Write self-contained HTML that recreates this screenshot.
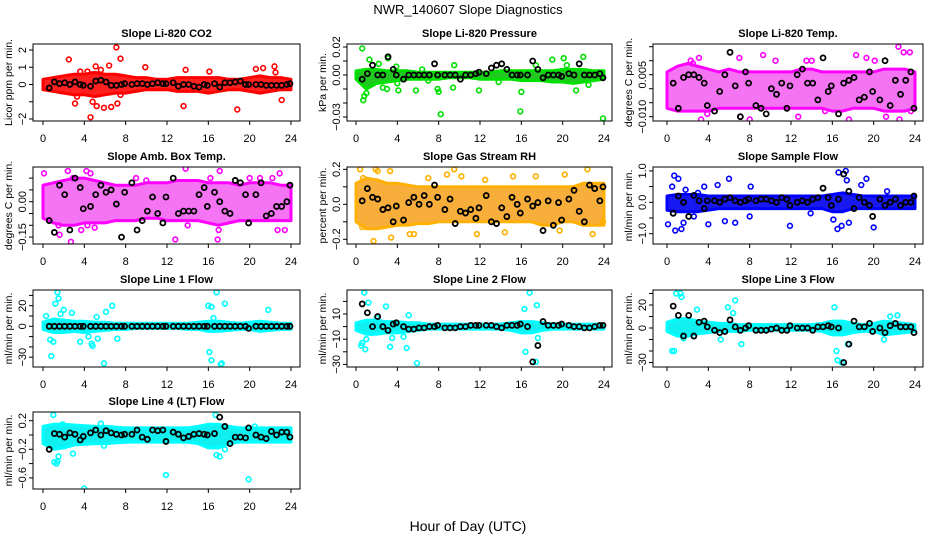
<!DOCTYPE html>
<html><head><meta charset="utf-8"><style>
html,body{margin:0;padding:0;background:#fff;}
svg{display:block;font-family:"Liberation Sans",sans-serif;}
</style></head><body>
<svg id="chart" width="936" height="540" viewBox="0 0 936 540" xmlns="http://www.w3.org/2000/svg">
<text x="468" y="14" text-anchor="middle" font-size="13">NWR_140607  Slope Diagnostics</text>
<text x="468" y="531" text-anchor="middle" font-size="14">Hour of Day (UTC)</text>
</svg>
<script>
const bandHours=[0,1,2,3,4,5,6,7,8,9,10,11,12,13,14,15,16,17,18,19,20,21,22,23,24];
const blackHours=[0.6,1.1,1.6,2.1,2.6,3.1,3.6,3.9,4.6,5.1,5.6,6.1,6.6,7.1,7.6,7.9,8.6,9.1,9.6,10.1,10.6,11.1,11.6,11.9,12.6,13.1,13.6,14.1,14.6,15.1,15.6,15.9,16.6,17.1,17.6,18.1,18.6,19.1,19.6,19.9,20.6,21.1,21.6,22.1,22.6,23.1,23.6,23.9];
const xTicks=[0,4,8,12,16,20,24];

// Panel 1 CO2
const co2Hi=[0.3,0.4,0.5,0.6,0.6,0.7,0.6,0.6,0.5,0.4,0.4,0.3,0.3,0.4,0.4,0.4,0.4,0.4,0.3,0.3,0.4,0.5,0.4,0.4,0.3];
const co2Lo=[-0.3,-0.4,-0.5,-0.6,-0.6,-0.7,-0.6,-0.5,-0.5,-0.4,-0.3,-0.3,-0.3,-0.4,-0.4,-0.4,-0.5,-0.4,-0.3,-0.3,-0.4,-0.5,-0.4,-0.3,-0.3];
const co2OutX=[2.5,3.1,3.3,4.3,4.6,4.8,5.1,5.2,5.9,6.4,6.6,7.1,7.2,7.5,7.5,9.9,13.8,13.6,16.1,18.8,20.6,21.3,22.4,23.1,22.5,3.6,5.6];
const co2OutY=[1.45,-1.1,-0.7,0.75,-1.9,-1.0,1.05,-1.25,-1.35,1.1,-1.3,2.15,-1.1,1.5,-0.6,1.0,0.85,-1.25,0.75,-1.45,0.9,0.95,1.05,-0.9,0.7,0.75,0.85];
const co2Mean=[-0.2,0.15,0.05,0.1,0,0.15,0,-0.05,-0.1,0.2,0.25,0.15,-0.05,-0.05,0,0.05,0,0.05,0.05,0,0.05,0.1,0.05,0.05,0.1,-0.1,0,0,-0.1,-0.15,0,-0.05,0.05,-0.15,0.1,0.1,0.15,0.2,0,0,0,0,-0.05,-0.05,-0.05,-0.05,0,0.05];
const co2Ticks=[2,1,0,-1,-2];
const co2Labels=["2","1","0","","−2"];

// Panel 2 Pressure
const presHi=[0.003,0.004,0.004,0.003,0.003,0.003,0.002,0.002,0.002,0.002,0.002,0.002,0.002,0.002,0.003,0.003,0.003,0.003,0.003,0.003,0.004,0.004,0.004,0.003,0.003];
const presLo=[-0.003,-0.01,-0.006,-0.005,-0.004,-0.003,-0.003,-0.003,-0.003,-0.002,-0.002,-0.002,-0.003,-0.003,-0.003,-0.003,-0.004,-0.004,-0.004,-0.005,-0.005,-0.006,-0.005,-0.004,-0.003];
const presOutX=[0.6,0.7,0.8,1.0,1.3,2.2,2.6,3.0,3.1,3.9,4.1,5.8,6.4,7.9,8.0,8.2,9.5,11.9,13.8,15.9,16.0,17.4,19.0,20.1,20.4,21.3,22.0,22.5,23.9,4.0,7.0,9.4];
const presOutY=[0.019,-0.018,-0.015,-0.013,0.011,0.008,-0.009,-0.01,0.012,0.006,-0.011,-0.011,0.004,-0.01,-0.012,-0.028,0.007,-0.011,-0.005,-0.026,-0.012,0.007,0.011,0.012,0.007,-0.011,0.013,-0.007,-0.031,-0.006,-0.004,-0.009];
const presMean=[-0.003,0.001,0.007,0,0,0.013,0.004,0,-0.003,0,0,0,0,0,0.008,0,0,0,0,-0.003,0,0,0.001,0.002,0.001,0.005,0.007,0.008,0.004,0,0,0,0,0.01,0.004,-0.002,0,0,0,-0.001,0.001,0,0.008,0,0,0,0.001,-0.002];
const presTicks=[0.02,0.01,0,-0.01,-0.02,-0.03];
const presLabels=["0.02","","0.00","","","−0.03"];

// Panel 3 Li-820 Temp
const tempHi=[0.006,0.008,0.009,0.008,0.007,0.006,0.007,0.006,0.006,0.006,0.006,0.006,0.006,0.007,0.007,0.006,0.006,0.006,0.006,0.006,0.006,0.007,0.007,0.007,0.006];
const tempLo=[-0.007,-0.008,-0.008,-0.008,-0.008,-0.007,-0.007,-0.007,-0.007,-0.007,-0.007,-0.007,-0.007,-0.007,-0.007,-0.007,-0.008,-0.008,-0.007,-0.007,-0.007,-0.008,-0.008,-0.008,-0.007];
const tempOutX=[2.3,3.1,3.3,3.9,7.0,7.1,8.0,9.3,12.7,13.5,14.0,17.6,18.3,19.3,20.1,21.2,22.4,22.5,22.9,23.5,23.6,2.5,10.5,15.3];
const tempOutY=[0.010,0.011,-0.011,-0.009,0.011,-0.010,-0.011,0.012,-0.010,0.010,0.010,-0.011,0.012,0.011,0.010,-0.010,0.015,-0.011,0.013,0.013,-0.008,0.009,0.010,-0.008];
const tempMean=[0.002,-0.007,0.004,0.005,0.005,0.004,0.002,-0.006,-0.008,-0.001,0.005,0.013,0.001,-0.010,0.006,0.002,-0.006,-0.007,-0.009,0.0,-0.002,0.002,-0.007,0.001,0.005,0.007,0.002,0.002,-0.004,0.011,-0.001,0.001,-0.009,0.002,0.003,0.004,-0.004,-0.003,0.006,-0.001,-0.004,0.010,-0.006,0.003,-0.002,0.003,0.006,-0.007];
const tempTicks=[0.015,0.01,0.005,0,-0.005,-0.01];
const tempLabels=["","","0.005","","","−0.010"];

// Panel 4 Amb Box Temp
const ambHi=[0.07,0.08,0.09,0.1,0.1,0.09,0.08,0.07,0.07,0.07,0.08,0.08,0.08,0.09,0.09,0.09,0.08,0.08,0.08,0.07,0.08,0.08,0.08,0.07,0.07];
const ambLo=[-0.07,-0.09,-0.1,-0.1,-0.09,-0.09,-0.09,-0.08,-0.08,-0.08,-0.07,-0.07,-0.08,-0.08,-0.08,-0.08,-0.09,-0.1,-0.09,-0.08,-0.08,-0.08,-0.08,-0.08,-0.08];
const ambOutX=[0.1,1.6,2.4,2.7,2.9,3.7,4.2,4.3,4.6,5.0,9.0,12.8,13.8,14.0,16.2,16.9,17.1,17.0,20.0,21.0,22.2,22.7,22.9,23.4,1.5,10.0];
const ambOutY=[0.12,-0.14,0.13,-0.17,0.1,-0.12,0.13,-0.1,0.12,-0.11,0.1,-0.16,0.14,-0.1,0.1,-0.16,0.13,-0.12,0.1,0.1,0.1,-0.12,0.12,-0.12,-0.1,0.09];
const ambMean=[-0.08,-0.13,0.07,0.03,-0.12,0.1,0.06,-0.03,-0.02,0.03,0.07,0.04,0.05,-0.01,-0.15,0.04,0.08,-0.12,-0.08,-0.04,0.02,-0.05,-0.09,0.02,0.1,-0.05,-0.04,-0.04,-0.04,0.03,0.06,-0.02,0.04,0,-0.04,-0.05,0.09,0.08,0.03,-0.09,0.03,0.08,-0.06,-0.05,-0.02,-0.02,0,0.07];
const ambTicks=[0.1,0.05,0,-0.05,-0.1,-0.15];
const ambLabels=["","","0.00","","","−0.15"];

// Panel 5 Gas Stream RH
const rhHi=[0.12,0.15,0.14,0.12,0.12,0.11,0.1,0.1,0.1,0.1,0.1,0.1,0.1,0.1,0.1,0.1,0.1,0.1,0.1,0.1,0.1,0.1,0.12,0.12,0.12];
const rhLo=[-0.1,-0.14,-0.14,-0.13,-0.12,-0.12,-0.11,-0.11,-0.1,-0.1,-0.1,-0.1,-0.1,-0.1,-0.1,-0.1,-0.1,-0.1,-0.12,-0.12,-0.1,-0.1,-0.12,-0.12,-0.12];
const rhOutX=[0.4,0.6,1.7,1.9,2.1,3.3,3.4,5.2,5.6,7.0,8.8,9.5,10.2,11.7,12.5,14.4,15.2,17.4,19.7,20.2,22.4,22.9,23.9,0.7];
const rhOutY=[0.2,-0.13,-0.21,0.2,0.19,0.19,-0.19,-0.17,-0.17,0.15,0.17,0.2,0.16,-0.17,0.14,-0.16,0.16,0.16,-0.15,0.17,0.2,-0.17,-0.1,0.15];
const rhMean=[0.02,0.09,0.04,0.03,-0.03,-0.02,-0.1,-0.01,-0.09,0.01,0.04,0,0.05,0,0.11,0.04,-0.03,0.03,-0.11,-0.04,-0.05,-0.03,-0.08,-0.02,0.05,-0.1,-0.11,-0.02,-0.07,0.04,0,-0.05,0.03,-0.01,0.01,-0.15,0.02,-0.12,0.01,-0.09,0.03,0.08,-0.04,-0.1,0.11,0.09,0.02,0.1];
const rhTicks=[0.2,0.1,0,-0.1,-0.2];
const rhLabels=["0.2","","0.0","","−0.2"];

// Panel 6 Sample Flow
const sampHi=[0.2,0.25,0.25,0.25,0.2,0.2,0.2,0.2,0.2,0.2,0.2,0.2,0.2,0.2,0.2,0.2,0.25,0.3,0.25,0.2,0.2,0.2,0.2,0.2,0.2];
const sampLo=[-0.25,-0.3,-0.3,-0.3,-0.25,-0.2,-0.2,-0.2,-0.2,-0.2,-0.2,-0.2,-0.2,-0.2,-0.2,-0.2,-0.3,-0.3,-0.2,-0.2,-0.2,-0.2,-0.2,-0.2,-0.2];
const sampOutX=[0.1,0.5,0.7,0.8,1.1,1.4,1.6,1.8,2.6,3.0,3.6,4.0,4.9,5.6,6.0,6.6,8.1,8.0,11.9,13.9,16.1,16.5,16.6,17.3,17.4,17.6,18.8,19.3,20.0,21.3,16.9];
const sampOutY=[-0.7,0.5,0.85,-0.9,0.75,-0.85,-0.65,0.4,-0.45,0.3,0.5,-0.7,0.55,-0.6,0.75,-0.65,0.5,-0.45,-0.75,-0.35,-0.55,-0.85,0.95,1.0,0.7,-0.65,0.55,0.75,-0.8,0.35,-0.75];
const sampMean=[-0.35,0.2,0.0,-0.45,0.22,0.05,-0.2,0.05,0.05,0.0,0.1,0.15,0.05,0.0,0.05,0.1,0.05,0.1,0.1,0.05,0.0,0.15,0.1,-0.1,0.0,0.05,0.0,0.1,0.15,0.45,0.15,-0.1,0.1,0.9,0.35,-0.2,0.15,0.0,-0.1,-0.45,0.1,-0.1,0.0,0.1,-0.1,0.0,0.0,0.2];
const sampTicks=[1,0.5,0,-0.5,-1];
const sampLabels=["1.0","","0.0","","−1.0"];

// Panel 7 Line 1 Flow
const l1Hi=[4,7,6,5,5,4,4,3,3,3,3,3,3,3,3,4,5,5,4,3,4,5,4,3,3];
const l1Lo=[-3,-6,-6,-5,-6,-5,-4,-3,-3,-2,-2,-2,-2,-2,-3,-3,-5,-5,-4,-3,-3,-5,-4,-3,-3];
const l1OutX=[0.3,0.7,0.8,1.0,1.2,1.4,1.5,1.7,2.0,2.8,3.6,4.4,4.7,4.8,5.2,5.3,5.9,6.1,6.7,7.2,16.0,16.1,16.3,16.3,16.8,17.2,17.3,17.6,21.8,16.5];
const l1OutY=[10,-13,-29,-15,22,33,27,12,16,13,-15,-10,-17,-19,9,-12,-36,14,20,-12,20,-25,-33,19,33,-37,-36,22,16,8];
const l1Mean=[0,0,0,0,0,0,0,0,0,0,0,0,0,0,0,0,0,0,0,0,0,0,0,0,0,0,0,0,0,0,0,0,0,0,0,0,0,0,0,-2,0,0,0,0,0,0,0,0];
const l1Ticks=[30,20,10,0,-10,-20,-30];
const l1Labels=["","20","","0","","","−30"];

// Panel 8 Line 2 Flow
const l2Hi=[3,5,5,4,4,3,3,2,2,2,2,2,2,2,2,3,4,4,3,2,2,2,2,2,2];
const l2Lo=[-3,-6,-6,-5,-5,-4,-3,-2,-2,-2,-2,-2,-2,-2,-2,-3,-5,-5,-3,-2,-2,-2,-2,-2,-2];
const l2OutX=[0.8,0.5,0.9,1.0,1.2,2.9,3.5,3.3,4.6,4.9,5.1,5.9,16.3,16.4,16.8,17.4,17.6,17.5,0.6,1.5,2.0];
const l2OutY=[27,-15,-18,-10,19,16,-9,-16,-8,-17,9,-29,14,-20,27,-28,-9,17,-13,-5,7];
const l2Mean=[18,11,0,8,0,-3,2,3,0,-2,-2,-1,-1,0,0,1,-1,-1,-1,0,0,1,1,1,1,1,0,-1,1,1,1,2,0,-28,-15,4,1,1,1,2,1,0,0,-1,-1,0,1,1];
const l2Ticks=[20,10,0,-10,-20,-30];
const l2Labels=["","10","","−10","","−30"];

// Panel 9 Line 3 Flow
const l3Hi=[5,8,8,6,5,4,4,3,3,3,3,3,3,3,3,4,6,6,4,3,4,6,5,4,3];
const l3Lo=[-3,-7,-7,-5,-4,-3,-3,-3,-2,-2,-2,-2,-2,-2,-2,-3,-6,-6,-4,-3,-3,-6,-5,-4,-3];
const l3OutX=[0.5,0.7,0.9,1.3,1.4,2.9,5.9,6.4,6.6,7.2,16.2,16.4,16.5,16.9,17.5,21.0,21.6,22.3,5.2,1.6];
const l3OutY=[-20,-20,30,30,27,16,18,13,24,-14,18,-20,-28,-30,-14,-10,10,11,-10,-9];
const l3Mean=[19,11,-7,11,-7,5,6,1,-2,-4,-3,7,1,-2,0,2,-2,-2,-2,-1,0,-2,-2,2,0,0,0,-2,1,1,2,1,0,-30,-14,6,1,1,4,-3,0,-4,2,4,1,1,1,-4];
const l3Ticks=[30,20,10,0,-10,-20,-30];
const l3Labels=["","20","","0","","","−30"];

// Panel 10 Line 4 (LT) Flow
const l4Hi=[0.12,0.15,0.15,0.14,0.13,0.12,0.12,0.11,0.1,0.1,0.1,0.1,0.1,0.1,0.1,0.12,0.15,0.15,0.12,0.1,0.1,0.1,0.1,0.1,0.1];
const l4Lo=[-0.12,-0.2,-0.18,-0.14,-0.13,-0.12,-0.12,-0.11,-0.1,-0.1,-0.1,-0.1,-0.1,-0.1,-0.1,-0.12,-0.18,-0.18,-0.12,-0.1,-0.1,-0.1,-0.1,-0.1,-0.1];
const l4OutX=[1.0,1.1,1.4,1.5,1.9,2.9,4.0,5.6,5.9,11.9,16.7,16.8,17.1,17.6,19.9,20.5,1.3];
const l4OutY=[0.28,-0.38,-0.37,-0.3,0.15,-0.26,-0.75,0.16,-0.15,-0.56,0.28,-0.28,-0.3,-0.2,-0.62,0.12,-0.4];
const l4Mean=[-0.2,0.02,0.01,-0.03,0.03,0.01,-0.07,-0.02,0.03,0.07,0,0.06,0.03,0.01,0,0.01,0.01,0.07,-0.03,-0.06,0.07,0.06,0.07,-0.09,0.04,0.01,-0.04,-0.02,0.01,0.02,0.01,0,0.02,0.25,0.12,-0.12,-0.03,-0.03,-0.04,0.1,0,-0.03,-0.05,0.05,0,0.04,0.04,-0.03];
const l4Ticks=[0.2,0,-0.2,-0.4,-0.6];
const l4Labels=["0.2","","−0.2","","−0.6"];

const NS="http://www.w3.org/2000/svg";
const svg=document.getElementById('chart');
function mk(tag,attrs,parent){const e=document.createElementNS(NS,tag);for(const k in attrs)e.setAttribute(k,attrs[k]);(parent||svg).appendChild(e);return e;}

const cols=[{L:33,R:300,x0:43,x24:291},{L:347,R:612,x0:356,x24:604},{L:653,R:923,x0:667,x24:915}];
const rows=[{T:44,B:121},{T:167,B:244},{T:290,B:367},{T:412,B:489}];

const panels=[
 {key:'co2',title:'Slope Li-820 CO2',ylab:'Licor ppm per min.',c:0,r:0,zero:84.5,ppu:17.25,hi:co2Hi,lo:co2Lo,ox:co2OutX,oy:co2OutY,mean:co2Mean,ticks:co2Ticks,labels:co2Labels,fill:'#ff2020',stroke:'#ff0000'},
 {key:'pressure',title:'Slope Li-820 Pressure',ylab:'kPa per min.',c:1,r:0,zero:75,ppu:1400,hi:presHi,lo:presLo,ox:presOutX,oy:presOutY,mean:presMean,ticks:presTicks,labels:presLabels,fill:'#22c822',stroke:'#00e000'},
 {key:'li820-temp',title:'Slope Li-820 Temp.',ylab:'degrees C per min.',c:2,r:0,zero:88.7,ppu:2800,hi:tempHi,lo:tempLo,ox:tempOutX,oy:tempOutY,mean:tempMean,ticks:tempTicks,labels:tempLabels,fill:'#f474f4',stroke:'#ff00ff'},
 {key:'amb-box-temp',title:'Slope Amb. Box Temp.',ylab:'degrees C per min.',c:0,r:1,zero:201.7,ppu:236,hi:ambHi,lo:ambLo,ox:ambOutX,oy:ambOutY,mean:ambMean,ticks:ambTicks,labels:ambLabels,fill:'#f474f4',stroke:'#ff00ff'},
 {key:'gas-stream-rh',title:'Slope Gas Stream RH',ylab:'percent per min.',c:1,r:1,zero:204.3,ppu:175,hi:rhHi,lo:rhLo,ox:rhOutX,oy:rhOutY,mean:rhMean,ticks:rhTicks,labels:rhLabels,fill:'#f7ae3a',stroke:'#ffb000'},
 {key:'sample-flow',title:'Slope Sample Flow',ylab:'ml/min per min.',c:2,r:1,zero:202.3,ppu:31.4,hi:sampHi,lo:sampLo,ox:sampOutX,oy:sampOutY,mean:sampMean,ticks:sampTicks,labels:sampLabels,fill:'#1818f0',stroke:'#0000ff'},
 {key:'line1-flow',title:'Slope Line 1 Flow',ylab:'ml/min per min.',c:0,r:2,zero:326.3,ppu:1.03,hi:l1Hi,lo:l1Lo,ox:l1OutX,oy:l1OutY,mean:l1Mean,ticks:l1Ticks,labels:l1Labels,fill:'#10f0f0',stroke:'#00ffff'},
 {key:'line2-flow',title:'Slope Line 2 Flow',ylab:'ml/min per min.',c:1,r:2,zero:326.6,ppu:1.26,hi:l2Hi,lo:l2Lo,ox:l2OutX,oy:l2OutY,mean:l2Mean,ticks:l2Ticks,labels:l2Labels,fill:'#10f0f0',stroke:'#00ffff'},
 {key:'line3-flow',title:'Slope Line 3 Flow',ylab:'ml/min per min.',c:2,r:2,zero:328,ppu:1.15,hi:l3Hi,lo:l3Lo,ox:l3OutX,oy:l3OutY,mean:l3Mean,ticks:l3Ticks,labels:l3Labels,fill:'#10f0f0',stroke:'#00ffff'},
 {key:'line4-flow',title:'Slope Line 4 (LT) Flow',ylab:'ml/min per min.',c:0,r:3,zero:435,ppu:71.5,hi:l4Hi,lo:l4Lo,ox:l4OutX,oy:l4OutY,mean:l4Mean,ticks:l4Ticks,labels:l4Labels,fill:'#10f0f0',stroke:'#00ffff'}
];

panels.forEach((p,pi)=>{
 const C=cols[p.c],Rw=rows[p.r];
 const xs=h=>C.x0+h*(C.x24-C.x0)/24;
 const ys=v=>p.zero-v*p.ppu;
 const g=mk('g',{});
 
 
 const clipId='clip'+pi;
 const cp=mk('clipPath',{id:clipId},g);
 mk('rect',{x:C.L,y:Rw.T,width:C.R-C.L,height:Rw.B-Rw.T},cp);
 const t=mk('text',{x:(C.L+C.R)/2,y:Rw.T-7,'text-anchor':'middle','font-size':'11','font-weight':'bold'},g);
 t.textContent=p.title;
 
 
 const plot=mk('g',{'clip-path':'url(#'+clipId+')'},g);
 let pts=[];
 for(let i=0;i<bandHours.length;i++)pts.push(xs(bandHours[i]).toFixed(1)+','+ys(p.hi[i]).toFixed(1));
 for(let i=bandHours.length-1;i>=0;i--)pts.push(xs(bandHours[i]).toFixed(1)+','+ys(p.lo[i]).toFixed(1));
 const band=mk('polygon',{points:pts.join(' '),fill:p.fill,stroke:p.stroke,'stroke-width':'3','stroke-linejoin':'round'},plot);
 
 
 for(let i=0;i<Math.min(p.ox.length,p.oy.length);i++){
  const c=mk('circle',{cx:xs(p.ox[i]),cy:ys(p.oy[i]),r:2.4,fill:'none',stroke:p.stroke,'stroke-width':'1.6'},plot);
  
  
 }
 for(let i=0;i<Math.min(blackHours.length,p.mean.length);i++){
  const c=mk('circle',{cx:xs(blackHours[i]),cy:ys(p.mean[i]),r:2.5,fill:'none',stroke:'#000','stroke-width':'1.8'},plot);
  
  
 }
 const bx=mk('rect',{x:C.L,y:Rw.T,width:C.R-C.L,height:Rw.B-Rw.T,fill:'none',stroke:'#000','stroke-width':'1'},g);
 
 
 const xa=mk('g',{},g);
 
 
 xTicks.forEach(h=>{
  const x=xs(h);
  mk('line',{x1:x,x2:x,y1:Rw.B,y2:Rw.B+4,stroke:'#000','stroke-width':'1'},xa);
  const tl=mk('text',{x:x,y:Rw.B+21,'text-anchor':'middle','font-size':'11'},xa);
  tl.textContent=String(h);
 });
 mk('line',{x1:xs(0),x2:xs(24),y1:Rw.B,y2:Rw.B,stroke:'#000'},xa);
 const ya=mk('g',{},g);
 
 
 p.ticks.forEach((v,i)=>{
  const y=ys(v);
  mk('line',{x1:C.L-4,x2:C.L,y1:y,y2:y,stroke:'#000','stroke-width':'1'},ya);
  if(p.labels[i]){
   const tl=mk('text',{x:0,y:0,'text-anchor':'middle','font-size':'11',transform:'translate('+(C.L-7)+','+y+') rotate(-90)'},ya);
   tl.textContent=p.labels[i];
  }
 });
 const yl=mk('text',{x:0,y:0,'text-anchor':'middle','font-size':'10.5',transform:'translate('+(C.L-21)+','+((Rw.T+Rw.B)/2)+') rotate(-90)'},g);
 yl.textContent=p.ylab;
 
 
});
</script>
</body></html>
